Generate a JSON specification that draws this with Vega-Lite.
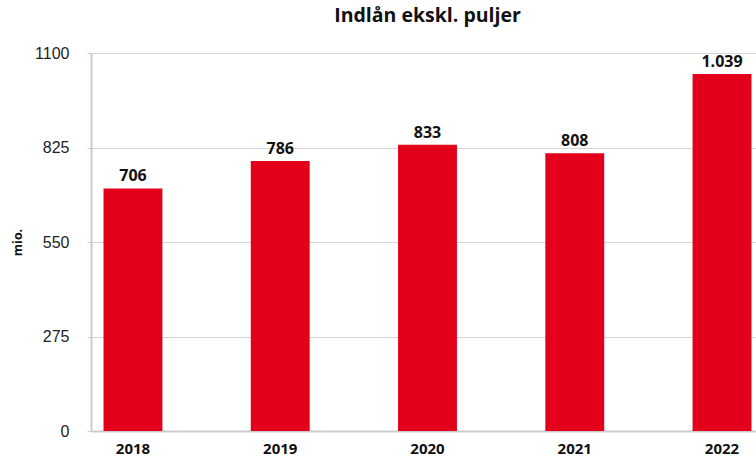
{
  "$schema": "https://vega.github.io/schema/vega-lite/v6.json",
  "autosize": {"type": "none"},
  "width": 673,
  "height": 378,
  "padding": {"left": 91, "top": 53, "right": 0, "bottom": 28},
  "background": "white",
  "config": {
    "view": {"stroke": null},
    "locale": {"number": {"decimal": ",", "thousands": ".", "grouping": [3], "currency": ["", " kr."]}}
  },
  "title": {
    "text": "Indlån ekskl. puljer",
    "font": "Open Sans",
    "fontSize": 19.5,
    "fontWeight": "bold",
    "color": "#111111",
    "anchor": "middle",
    "frame": "group",
    "offset": 19
  },
  "data": {
    "values": [
      {"year": "2018", "value": 706},
      {"year": "2019", "value": 786},
      {"year": "2020", "value": 833},
      {"year": "2021", "value": 808},
      {"year": "2022", "value": 1039}
    ]
  },
  "encoding": {
    "x": {
      "field": "year",
      "type": "nominal",
      "scale": {"paddingInner": 0.6, "paddingOuter": 0.085},
      "axis": {
        "title": null,
        "labelAngle": 0,
        "labelFont": "Open Sans",
        "labelFontSize": 15,
        "labelFontWeight": "bold",
        "labelColor": "#111111",
        "labelPadding": 10,
        "ticks": false,
        "domainColor": "#cccccc",
        "domainWidth": 2,
        "grid": false
      }
    },
    "y": {
      "field": "value",
      "type": "quantitative",
      "scale": {"domain": [0, 1100], "nice": false},
      "axis": {
        "values": [0, 275, 550, 825, 1100],
        "format": "d",
        "title": "mio.",
        "titleFont": "Open Sans",
        "titleFontSize": 12.5,
        "titleFontWeight": "bold",
        "titleColor": "#111111",
        "titlePadding": 10,
        "labelFont": "Liberation Sans",
        "labelFontSize": 16,
        "labelColor": "#222222",
        "labelPadding": 18,
        "tickSize": 4,
        "tickColor": "#cccccc",
        "domainColor": "#cccccc",
        "domainWidth": 2,
        "gridColor": "#d4d4d4",
        "gridWidth": 1
      }
    }
  },
  "layer": [
    {"mark": {"type": "bar", "color": "#E2001A"}},
    {
      "mark": {"type": "text", "baseline": "bottom", "dy": -4, "font": "Open Sans", "fontSize": 16, "fontWeight": "bold", "color": "#111111"},
      "encoding": {"text": {"field": "value", "type": "quantitative", "format": ",d"}}
    }
  ]
}
